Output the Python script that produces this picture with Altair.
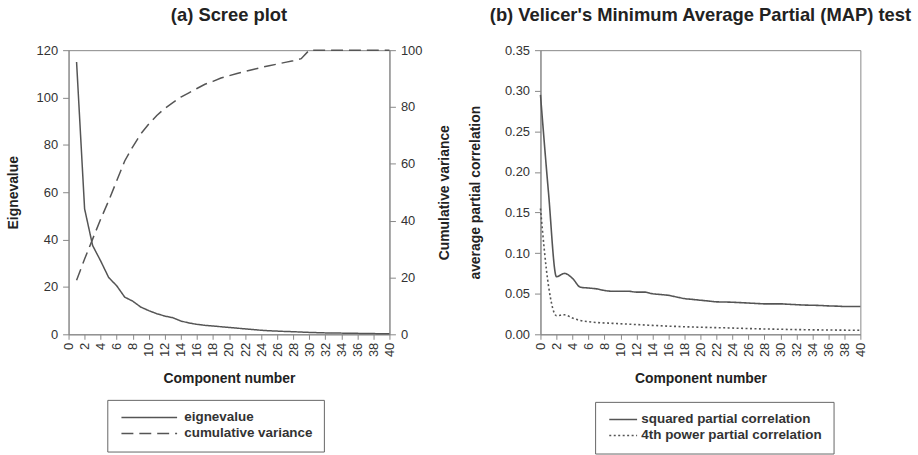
import altair as alt
import pandas as pd

FONT = "Liberation Sans"

# ---------------- data ----------------
components = list(range(1, 41))
eigenvalue = [115, 53, 37.5, 31, 24, 20.5, 15.7, 14, 11.5, 10,
              8.7, 7.7, 7.0, 5.6, 4.8, 4.2, 3.8, 3.5, 3.2, 2.9,
              2.6, 2.3, 2.0, 1.7, 1.5, 1.35, 1.2, 1.1, 0.95, 0.8,
              0.7, 0.6, 0.55, 0.5, 0.45, 0.4, 0.35, 0.3, 0.25, 0.2]
cumulative = [19, 26.5, 33.5, 40.5, 47, 54, 61, 66, 70.5, 74,
              77, 79.5, 81.5, 83.5, 85, 86.5, 88, 89, 90.2, 91,
              91.8, 92.5, 93.2, 93.9, 94.5, 95.1, 95.7, 96.3, 97, 100,
              100, 100, 100, 100, 100, 100, 100, 100, 100, 100]

map_components = list(range(0, 41))
squared_partial = [0.295, 0.175, 0.071, 0.075, 0.069, 0.058, 0.057, 0.056, 0.054, 0.053,
                   0.053, 0.053, 0.052, 0.052, 0.050, 0.049, 0.048, 0.046, 0.044, 0.043,
                   0.042, 0.041, 0.040, 0.0398, 0.0395, 0.039, 0.0385, 0.038, 0.0375, 0.0375,
                   0.0375, 0.037, 0.0365, 0.036, 0.0358, 0.0355, 0.035, 0.0347, 0.0343, 0.0343,
                   0.0343]
fourth_partial = [0.155, 0.06, 0.023, 0.024, 0.020, 0.017, 0.0155, 0.0145, 0.014, 0.0135,
                  0.013, 0.0125, 0.012, 0.0115, 0.011, 0.0105, 0.010, 0.0097, 0.0093, 0.009,
                  0.0087, 0.0085, 0.0082, 0.008, 0.0077, 0.0074, 0.0071, 0.0068, 0.0066, 0.0064,
                  0.0062, 0.006, 0.0058, 0.0057, 0.0055, 0.0054, 0.0053, 0.0052, 0.0051, 0.005,
                  0.0049]

x_ticks = list(range(0, 41, 2))
eig_ticks = [0, 20, 40, 60, 80, 100, 120]
cum_ticks = [0, 20, 40, 60, 80, 100]
map_ticks = [0, 0.05, 0.10, 0.15, 0.20, 0.25, 0.30, 0.35]

left_series = ["eignevalue", "cumulative variance"]
right_series = ["squared partial correlation", "4th power partial correlation"]

df_eig = pd.DataFrame({"component": components, "value": eigenvalue, "series": left_series[0]})
df_cum = pd.DataFrame({"component": components, "value": cumulative, "series": left_series[1]})
df_map = pd.concat([
    pd.DataFrame({"component": map_components, "value": squared_partial, "series": right_series[0]}),
    pd.DataFrame({"component": map_components, "value": fourth_partial, "series": right_series[1]}),
])

LINE = "#555555"


def legend(x, y, path, offset):
    return alt.Legend(
        title=None, orient="none", legendX=x, legendY=y, direction="vertical",
        symbolType=path, symbolSize=49, symbolStrokeWidth=1.5,
        symbolStrokeColor=LINE, symbolFillColor="transparent",
        labelFont=FONT, labelFontSize=13.5, labelLimit=400,
        labelFontWeight="bold", labelColor="#333", strokeColor="#666",
        padding=11, rowPadding=1, labelOffset=offset,
    )


def x_enc():
    return alt.X("component:Q", scale=alt.Scale(domain=[0, 40], nice=False),
                 axis=alt.Axis(values=x_ticks, labelAngle=270, title="Component number",
                               titlePadding=15, labelPadding=3, grid=False))


def y_axis(values, title, pad, **kw):
    return alt.Axis(values=values, title=title, titlePadding=pad, grid=False,
                    tickSize=6, labelPadding=5, **kw)


left_dash = alt.StrokeDash(
    "series:N",
    scale=alt.Scale(domain=left_series, range=[[1, 0], [12, 6]]),
    legend=legend(39, 352, "M-1,0H15", 53),
)

eig_line = alt.Chart(df_eig).mark_line(color=LINE, strokeWidth=1.5).encode(
    x=x_enc(),
    y=alt.Y("value:Q", scale=alt.Scale(domain=[0, 120], nice=False),
            axis=y_axis(eig_ticks, "Eignevalue", 16)),
    strokeDash=left_dash,
)
cum_line = alt.Chart(df_cum).mark_line(color=LINE, strokeWidth=1.5).encode(
    x=x_enc(),
    y=alt.Y("value:Q", scale=alt.Scale(domain=[0, 100], nice=False),
            axis=y_axis(cum_ticks, "Cumulative variance", 30, orient="right", titleAngle=270)),
    strokeDash=left_dash,
)

left = alt.layer(eig_line, cum_line).resolve_scale(y="independent").properties(
    width=323, height=286,
    title=alt.TitleParams("(a) Scree plot", font=FONT, fontSize=18.5, fontWeight="bold",
                          color="#222", offset=20),
)

right = alt.Chart(df_map).mark_line(strokeWidth=1.6, color=LINE, interpolate="monotone").encode(
    x=x_enc(),
    y=alt.Y("value:Q", scale=alt.Scale(domain=[0, 0.35], nice=False),
            axis=y_axis(map_ticks, "average partial correlation", 22, format=".2f")),
    strokeDash=alt.StrokeDash(
        "series:N",
        scale=alt.Scale(domain=right_series, range=[[1, 0], [2, 2.5]]),
        legend=legend(55, 354, "M-1,0H7", 22),
    ),
).properties(
    width=322, height=286,
    title=alt.TitleParams("(b) Velicer's Minimum Average Partial (MAP) test", font=FONT,
                          fontSize=18.5, fontWeight="bold", color="#222", offset=20),
)

chart = alt.hconcat(left, right, spacing=15).resolve_scale(
    strokeDash="independent", x="independent", y="independent"
).properties(
    padding={"left": 5, "top": 4, "right": 5, "bottom": 0},
).configure_view(
    stroke="#888", strokeWidth=1,
).configure_axis(
    domainColor="#888", tickColor="#888", labelColor="#333", titleColor="#222",
    labelFont=FONT, titleFont=FONT, labelFontSize=13, titleFontSize=14,
    titleFontWeight="bold", grid=False, tickSize=5,
)

chart.save("out.html", embed_options={"renderer": "svg", "actions": False})
